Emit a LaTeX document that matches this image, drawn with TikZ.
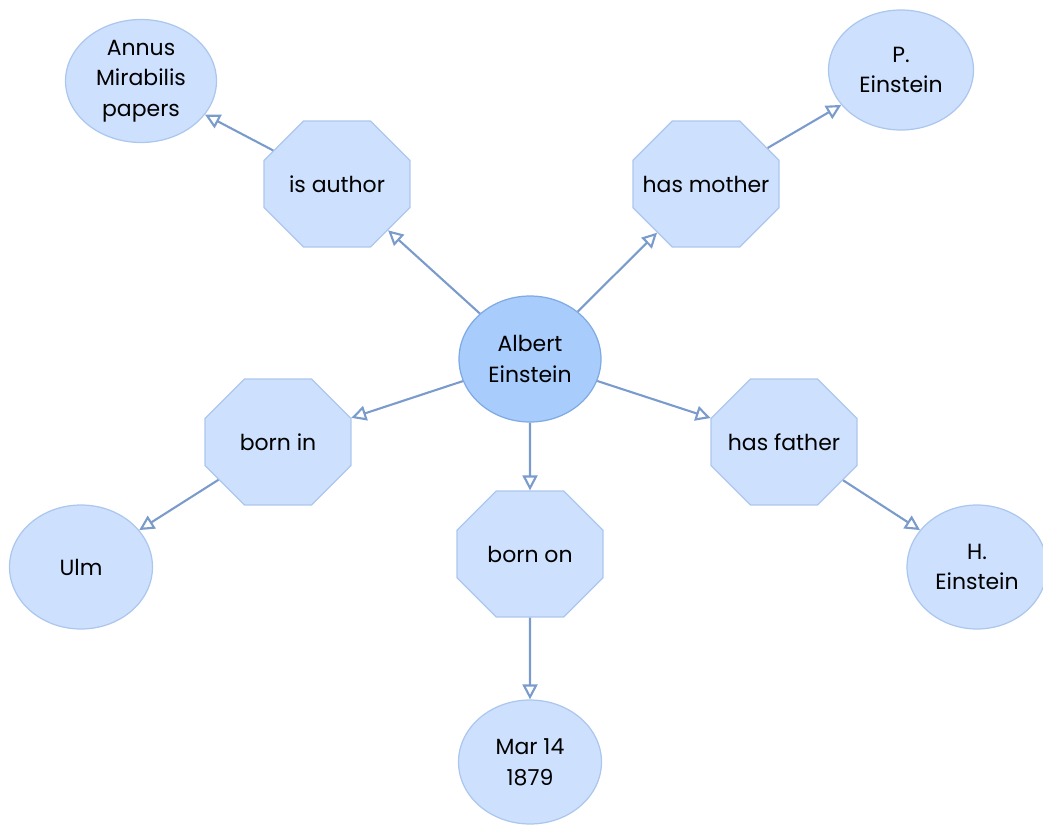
\documentclass[tikz,border=0pt]{standalone}
\usepackage{fontspec}
\setmainfont{Poppins}
\usetikzlibrary{arrows.meta}
\usetikzlibrary{shapes.misc}
\usetikzlibrary{shapes.geometric}
\definecolor{nodefill}{RGB}{205,224,253}
\definecolor{nodeline}{RGB}{172,199,238}
\definecolor{hubfill}{RGB}{168,204,252}
\definecolor{hubline}{RGB}{128,170,228}
\definecolor{linkcol}{RGB}{122,155,204}
\tikzstyle{entity} = [ellipse, minimum width=2.86cm, minimum height=2.48cm, inner sep=1pt, align=center, fill=nodefill, draw=nodeline, line width=0.7pt, font=\fontsize{12.5}{17.5}\selectfont]
\tikzstyle{relation} = [chamfered rectangle, chamfered rectangle xsep=0.76cm, chamfered rectangle ysep=0.62cm, minimum width=2.92cm, minimum height=2.52cm, inner sep=0pt, align=center, fill=nodefill, draw=nodeline, line width=0.7pt, font=\fontsize{12.5}{17.5}\selectfont]
\tikzstyle{link} = [-{Triangle[open, length=8.5pt, width=8.5pt]}, draw=linkcol, line width=1.2pt]

\begin{document}
\begin{tikzpicture}[x=0.02cm, y=-0.02cm]

  \useasboundingbox (0,0) rectangle (1043,824);

  % Centre
  \node [entity, fill=hubfill, draw=hubline, minimum width=2.84cm, minimum height=2.52cm] (einstein) at (530,359) {Albert\\Einstein};

  % Relations
  \node [relation] (author) at (337,184) {is author};
  \node [relation] (mother) at (706,184) {has mother};
  \node [relation] (bornin) at (278,442) {born in};
  \node [relation] (bornon) at (530,554) {born on};
  \node [relation] (father) at (784,442) {has father};

  % Values
  \node [entity, minimum width=3.02cm, minimum height=2.46cm] (papers) at (141,81) {Annus\\Mirabilis\\papers};
  \node [entity, minimum width=2.9cm, minimum height=2.4cm] (pauline) at (901,70) {P.\\Einstein};
  \node [entity] (ulm) at (81,567) {Ulm};
  \node [entity] (date) at (530,762) {Mar 14\\1879};
  \node [entity, minimum width=2.8cm] (hermann) at (977,567) {H.\\Einstein};

  % Links
  \draw [link] (einstein) -- (author);
  \draw [link] (author) -- (papers);
  \draw [link] (einstein) -- (mother);
  \draw [link] (mother) -- (pauline);
  \draw [link] (einstein) -- (bornin);
  \draw [link] (bornin) -- (ulm);
  \draw [link] (einstein) -- (bornon);
  \draw [link] (bornon) -- (date);
  \draw [link] (einstein) -- (father);
  \draw [link] (father) -- (hermann);

\end{tikzpicture}
\end{document}
